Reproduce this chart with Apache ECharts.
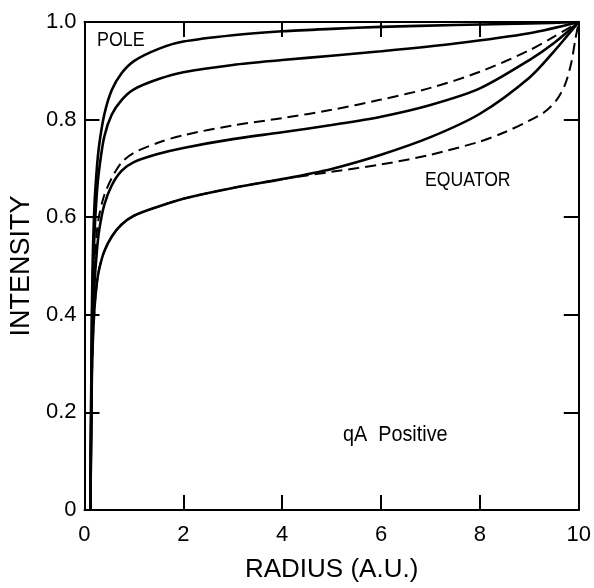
<!DOCTYPE html>
<html>
<head>
<meta charset="utf-8">
<script src="https://cdn.jsdelivr.net/npm/echarts@6/dist/echarts.min.js"></script>
<style>
html,body{margin:0;padding:0;background:#fff;}
#chart{width:594px;height:588px;}
</style>
</head>
<body>
<div id="chart"></div>
<script>
// ---- data ----
const xTicks = [0, 2, 4, 6, 8, 10];
const yTicks = [0, 0.2, 0.4, 0.6, 0.8, 1.0];

// pole-most curve (solid)
const c1x = [0.12, 0.14, 0.16, 0.2, 0.25, 0.3, 0.4, 0.55, 0.75, 1.0, 1.5, 2.0, 3.0, 4.0, 5.0, 6.0, 7.5, 9.0, 10];
const c1y = [0.0, 0.30, 0.48, 0.62, 0.70, 0.75, 0.81, 0.86, 0.895, 0.92, 0.945, 0.960, 0.973, 0.981, 0.986, 0.990, 0.994, 0.997, 1.0];
// second curve (solid)
const c2x = [0.12, 0.14, 0.16, 0.2, 0.25, 0.3, 0.4, 0.55, 0.75, 1.0, 1.5, 2.0, 3.0, 4.0, 5.0, 6.0, 7.5, 9.0, 10];
const c2y = [0.0, 0.27, 0.43, 0.56, 0.65, 0.70, 0.765, 0.81, 0.84, 0.862, 0.883, 0.897, 0.912, 0.922, 0.931, 0.940, 0.956, 0.977, 1.0];
// upper dashed curve
const c3x = [0.12, 0.14, 0.16, 0.2, 0.25, 0.3, 0.4, 0.55, 0.75, 1.0, 1.5, 2.0, 3.0, 4.0, 5.0, 6.0, 7.0, 8.0, 9.0, 9.5, 10];
const c3y = [0.0, 0.24, 0.38, 0.50, 0.57, 0.605, 0.645, 0.68, 0.712, 0.732, 0.753, 0.768, 0.788, 0.803, 0.820, 0.841, 0.865, 0.898, 0.942, 0.970, 1.0];
// third solid curve
const c4x = [0.12, 0.14, 0.16, 0.2, 0.25, 0.3, 0.4, 0.55, 0.75, 1.0, 1.5, 2.0, 3.0, 4.0, 5.0, 6.0, 7.0, 8.0, 9.0, 9.5, 10];
const c4y = [0.0, 0.22, 0.36, 0.46, 0.53, 0.575, 0.625, 0.665, 0.695, 0.713, 0.730, 0.742, 0.760, 0.774, 0.789, 0.806, 0.830, 0.864, 0.922, 0.957, 1.0];
// equator curve (solid)
const c5x = [0.12, 0.14, 0.16, 0.2, 0.25, 0.3, 0.4, 0.55, 0.75, 1.0, 1.5, 2.0, 3.0, 4.0, 5.0, 6.0, 7.0, 8.0, 9.0, 9.5, 10];
const c5y = [0.0, 0.20, 0.32, 0.41, 0.465, 0.495, 0.53, 0.56, 0.585, 0.603, 0.622, 0.638, 0.660, 0.678, 0.699, 0.728, 0.764, 0.812, 0.886, 0.940, 1.0];
// equator curve (dashed)
const c6x = [0.12, 0.14, 0.16, 0.2, 0.25, 0.3, 0.4, 0.55, 0.75, 1.0, 1.5, 2.0, 3.0, 4.0, 5.0, 6.0, 7.0, 8.0, 8.5, 9.0, 9.3, 9.55, 9.72, 9.85, 9.93, 10];
const c6y = [0.0, 0.20, 0.32, 0.41, 0.465, 0.495, 0.53, 0.56, 0.585, 0.603, 0.622, 0.638, 0.660, 0.678, 0.693, 0.708, 0.728, 0.755, 0.774, 0.798, 0.815, 0.840, 0.871, 0.917, 0.964, 1.0];

const seriesDefs = [
  {x: c1x, y: c1y, dashed: false},
  {x: c2x, y: c2y, dashed: false},
  {x: c3x, y: c3y, dashed: true},
  {x: c4x, y: c4y, dashed: false},
  {x: c5x, y: c5y, dashed: false},
  {x: c6x, y: c6y, dashed: true}
];

const FONT2 = "'Liberation Sans', sans-serif";

const chart = echarts.init(document.getElementById('chart'), null, {renderer: 'canvas'});

const axisCommon = {
  type: 'value',
  axisLine: {show: true, onZero: false, lineStyle: {color: '#000', width: 2}},
  axisTick: {show: true, inside: true, length: 15, lineStyle: {color: '#000', width: 2}},
  splitLine: {show: false}
};

const option = {
  animation: false,
  backgroundColor: '#fff',
  grid: {left: 84, right: 10, top: 22, bottom: 66, containLabel: false},
  xAxis: [
    Object.assign({}, axisCommon, {
      min: 0, max: 10, interval: 2, position: 'bottom',
      name: 'RADIUS (A.U.)', nameLocation: 'middle', nameGap: 47,
      nameTextStyle: {fontFamily: FONT2, fontSize: 26, color: '#000'},
      axisLabel: {show: true, margin: 14, fontFamily: FONT2, fontSize: 22, color: '#000',
        formatter: v => xTicks.includes(v) ? String(v) : ''}
    }),
    Object.assign({}, axisCommon, {
      min: 0, max: 10, interval: 2, position: 'top',
      axisLabel: {show: false}
    })
  ],
  yAxis: [
    Object.assign({}, axisCommon, {
      min: 0, max: 1, interval: 0.2, position: 'left',
      name: 'INTENSITY', nameLocation: 'middle', nameGap: 48,
      nameTextStyle: {fontFamily: FONT2, fontSize: 27, color: '#000'},
      axisLabel: {show: true, margin: 8, fontFamily: FONT2, fontSize: 22, color: '#000',
        formatter: v => {
          const t = yTicks.find(k => Math.abs(k - v) < 1e-9);
          if (t === undefined) return '';
          return t === 0 ? '0' : t.toFixed(1);
        }}
    }),
    Object.assign({}, axisCommon, {
      min: 0, max: 1, interval: 0.2, position: 'right',
      axisLabel: {show: false}
    })
  ],
  series: seriesDefs.map(s => ({
    type: 'line',
    xAxisIndex: 0, yAxisIndex: 0,
    data: s.x.map((xv, i) => [xv, s.y[i]]),
    showSymbol: false,
    symbol: 'none',
    smooth: 0.3,
    lineStyle: {color: '#000', width: s.dashed ? 2 : 2.6, type: s.dashed ? [11, 6] : 'solid'},
    z: 3
  })),
  graphic: [
    {type: 'text', x: 97, y: 30, scaleX: 0.85, style: {text: 'POLE', font: "21px " + FONT2, fill: '#000'}},
    {type: 'text', x: 425, y: 170, scaleX: 0.84, style: {text: 'EQUATOR', font: "21px " + FONT2, fill: '#000'}},
    {type: 'text', x: 343, y: 424, scaleX: 0.9, style: {text: 'qA  Positive', font: "22px " + FONT2, fill: '#000'}}
  ]
};
chart.setOption(option);
</script>
</body>
</html>
